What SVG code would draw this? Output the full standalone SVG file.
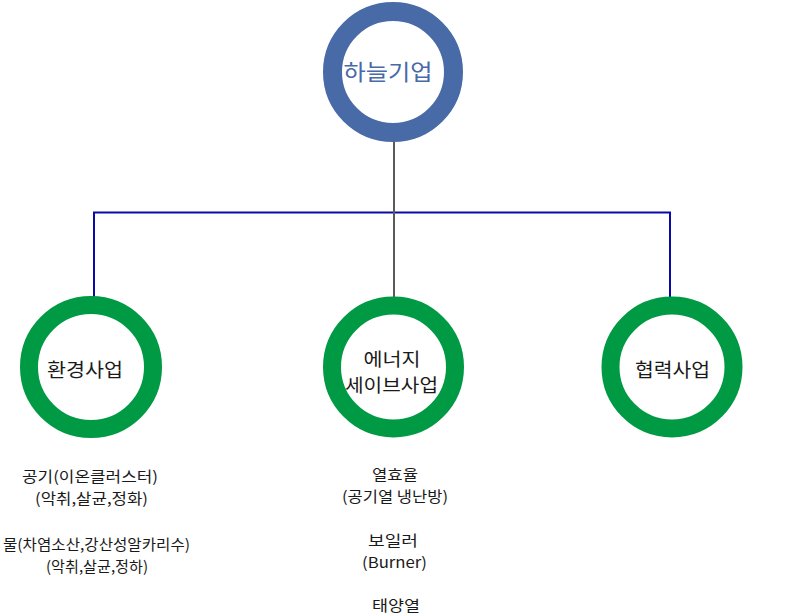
<svg xmlns="http://www.w3.org/2000/svg" width="787" height="616" viewBox="0 0 787 616">
<style>
text{font-family:"Noto Sans CJK KR","Noto Sans",sans-serif;text-anchor:middle;}
.ring-top{fill:#fff;stroke:#486aa7;stroke-width:19;}
.ring{fill:#fff;stroke:#009a44;stroke-width:18;}
.lbl{font-size:19.5px;fill:#1a1a1a;}
.lbl2{font-size:17.8px;fill:#1a1a1a;}
.top{font-size:22px;fill:#486aa7;}
.sub{font-size:15px;fill:#1a1a1a;}
.blue{stroke:#0a0aa8;stroke-width:2;fill:none;}
.gray{stroke:#5a5a5a;stroke-width:2;fill:none;}
</style>
<rect width="787" height="616" fill="#fff"/>
<g id="connectors">
<path class="blue" d="M94,297 V212.5 H670 V297"/>
<path class="gray" d="M394,142 V297"/>
</g>
<g id="node-top">
<circle class="ring-top" cx="393" cy="72" r="60.5"/>
<text class="top" x="388" y="80" textLength="89" lengthAdjust="spacingAndGlyphs">하늘기업</text>
</g>
<g id="node-env">
<circle class="ring" cx="91" cy="367" r="62"/>
<text class="lbl" x="85" y="377" textLength="76" lengthAdjust="spacingAndGlyphs">환경사업</text>
</g>
<g id="node-energy">
<circle class="ring" cx="393.5" cy="367" r="61.5"/>
<text class="lbl2"><tspan x="392" y="366" textLength="57" lengthAdjust="spacingAndGlyphs">에너지</tspan><tspan x="391.5" y="392" textLength="93" lengthAdjust="spacingAndGlyphs">세이브사업</tspan></text>
</g>
<g id="node-coop">
<circle class="ring" cx="672" cy="367" r="61.5"/>
<text class="lbl" x="672.5" y="377" textLength="75" lengthAdjust="spacingAndGlyphs">협력사업</text>
</g>
<g id="env-items">
<text class="sub"><tspan x="90" y="482" textLength="136" lengthAdjust="spacingAndGlyphs">공기(이온클러스터)</tspan><tspan x="91.5" y="504" textLength="113" lengthAdjust="spacingAndGlyphs">(악취,살균,정화)</tspan></text>
<text class="sub"><tspan x="96.5" y="550" textLength="187" lengthAdjust="spacingAndGlyphs">물(차염소산,강산성알카리수)</tspan><tspan x="97" y="572" textLength="102" lengthAdjust="spacingAndGlyphs">(악취,살균,정하)</tspan></text>
</g>
<g id="energy-items">
<text class="sub"><tspan x="395" y="480" textLength="46" lengthAdjust="spacingAndGlyphs">열효율</tspan><tspan x="395" y="502" textLength="106" lengthAdjust="spacingAndGlyphs">(공기열 냉난방)</tspan></text>
<text class="sub"><tspan x="393" y="546" textLength="50" lengthAdjust="spacingAndGlyphs">보일러</tspan><tspan x="394.5" y="568" textLength="65" lengthAdjust="spacingAndGlyphs">(Burner)</tspan></text>
<text class="sub" x="396" y="611" textLength="48" lengthAdjust="spacingAndGlyphs">태양열</text>
</g>
</svg>
